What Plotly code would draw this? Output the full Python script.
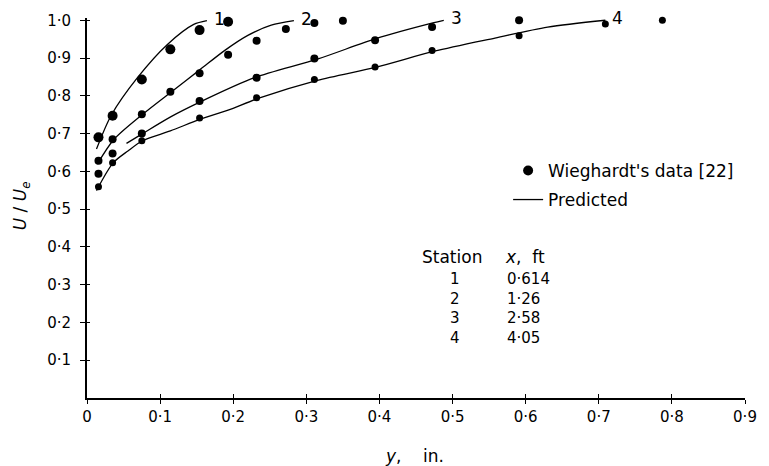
import plotly.graph_objects as go

# Wieghardt's measured profiles: distance from wall y (in.) and U/Ue, per station
s1_y = [0.0157, 0.035, 0.075, 0.114, 0.154, 0.193]
s1_u = [0.690, 0.747, 0.843, 0.923, 0.974, 0.996]

s2_y = [0.0157, 0.035, 0.075, 0.114, 0.154, 0.193, 0.232, 0.272, 0.311, 0.350]
s2_u = [0.628, 0.685, 0.751, 0.811, 0.860, 0.909, 0.946, 0.977, 0.993, 0.999]

s3_y = [0.0157, 0.035, 0.075, 0.154, 0.232, 0.311, 0.394, 0.472, 0.591]
s3_u = [0.594, 0.647, 0.700, 0.786, 0.848, 0.899, 0.947, 0.982, 1.000]

s4_y = [0.0157, 0.035, 0.075, 0.154, 0.232, 0.311, 0.394, 0.472, 0.591, 0.709, 0.787]
s4_u = [0.559, 0.623, 0.681, 0.741, 0.795, 0.843, 0.876, 0.920, 0.959, 0.990, 1.000]

# Predicted profiles
p1_y = [0.013, 0.033, 0.069, 0.110, 0.146, 0.164]
p1_u = [0.659, 0.748, 0.848, 0.936, 0.989, 0.999]

p2_y = [0.014, 0.037, 0.076, 0.117, 0.155, 0.189, 0.220, 0.252, 0.283]
p2_u = [0.619, 0.685, 0.751, 0.813, 0.870, 0.921, 0.960, 0.987, 0.999]

p3_y = [0.054, 0.076, 0.115, 0.155, 0.229, 0.315, 0.396, 0.473, 0.488]
p3_u = [0.674, 0.700, 0.745, 0.784, 0.848, 0.897, 0.952, 0.993, 1.000]

p4_y = [0.013, 0.036, 0.056, 0.076, 0.114, 0.155, 0.193, 0.234, 0.315, 0.396, 0.475, 0.558, 0.630, 0.709]
p4_u = [0.549, 0.623, 0.654, 0.681, 0.707, 0.738, 0.762, 0.793, 0.841, 0.876, 0.918, 0.953, 0.982, 1.000]

station_ids = ["1", "2", "3", "4"]
station_x_ft = ["0·614", "1·26", "2·58", "4·05"]

x_ticks = [0, 0.1, 0.2, 0.3, 0.4, 0.5, 0.6, 0.7, 0.8, 0.9]
x_tick_text = ["0", "0·1", "0·2", "0·3", "0·4", "0·5", "0·6", "0·7", "0·8", "0·9"]
y_ticks = [0.1, 0.2, 0.3, 0.4, 0.5, 0.6, 0.7, 0.8, 0.9, 1.0]
y_tick_text = ["0·1", "0·2", "0·3", "0·4", "0·5", "0·6", "0·7", "0·8", "0·9", "1·0"]

FONT = "DejaVu Sans"
INK = "black"
Y_TOP = 1.006

measured = [(s1_y, s1_u, 10), (s2_y, s2_u, 8), (s3_y, s3_u, 8), (s4_y, s4_u, 7)]
predicted = [(p1_y, p1_u), (p2_y, p2_u), (p3_y, p3_u), (p4_y, p4_u)]

fig = go.Figure()

for i, (ys, us, sz) in enumerate(measured):
    fig.add_trace(go.Scatter(
        x=ys, y=us, mode="markers",
        marker=dict(color=INK, size=sz),
        name="Wieghardt's data [22]",
        legendgroup="data", showlegend=(i == 0),
        cliponaxis=False,
    ))

for i, (ys, us) in enumerate(predicted):
    fig.add_trace(go.Scatter(
        x=ys, y=us, mode="lines",
        line=dict(color=INK, width=1.3, shape="spline", smoothing=0.8),
        name="Predicted",
        legendgroup="pred", showlegend=(i == 0),
        cliponaxis=False,
    ))
    # station number at the end of each predicted curve
    fig.add_annotation(
        x=ys[-1], y=us[-1], text=station_ids[i], showarrow=False,
        xanchor="left", yanchor="middle", xshift=5, yshift=2,
        font=dict(family=FONT, size=17, color=INK),
    )

# invisible trace that carries the overlay axes used for the inner tick marks
fig.add_trace(go.Scatter(x=[0], y=[0], xaxis="x2", yaxis="y2", mode="markers",
                         marker=dict(opacity=0), showlegend=False, hoverinfo="skip"))

axis_common = dict(showgrid=False, zeroline=False, showline=True,
                   linecolor=INK, linewidth=2, ticks="outside",
                   tickcolor=INK, tickwidth=1.2,
                   tickfont=dict(family=FONT, size=15, color=INK))

fig.update_layout(
    width=769, height=466,
    margin=dict(l=87, r=16, t=17, b=68),
    paper_bgcolor="white", plot_bgcolor="white",
    font=dict(family=FONT, color=INK),
    xaxis=dict(range=[0, 0.9], tickvals=x_ticks, ticktext=x_tick_text,
               ticklen=4, **axis_common),
    yaxis=dict(range=[0, Y_TOP], tickvals=y_ticks, ticktext=y_tick_text,
               ticklen=5, ticklabelstandoff=6, **axis_common),
    xaxis2=dict(overlaying="x", range=[0, 0.9], tickvals=x_ticks, ticks="inside",
                ticklen=4, tickwidth=1.2, tickcolor=INK, showticklabels=False,
                showgrid=False, zeroline=False, showline=False, side="bottom"),
    yaxis2=dict(overlaying="y", range=[0, Y_TOP], tickvals=y_ticks, ticks="inside",
                ticklen=3, tickwidth=1.2, tickcolor=INK, showticklabels=False,
                showgrid=False, zeroline=False, showline=False, side="left"),
    legend=dict(x=0.64, y=0.645, xanchor="left", yanchor="top",
                font=dict(family=FONT, size=17, color=INK),
                bgcolor="rgba(0,0,0,0)", tracegroupgap=4,
                traceorder="grouped"),
)

TXT = dict(family=FONT, size=17, color=INK)
TABLE = dict(family=FONT, size=15, color=INK)

def px_to_paper(px, py):
    # plot area spans x 87..753 and y 17..398 in page pixels
    return (px - 87) / 666, (398 - py) / 381

# axis titles
tx, ty = px_to_paper(418, 456)
fig.add_annotation(xref="paper", yref="paper", x=tx, y=ty, xanchor="center", yanchor="middle",
                   text="<i>y</i>,    in.", showarrow=False, font=TXT)
tx, ty = px_to_paper(21, 205)
fig.add_annotation(xref="paper", yref="paper", x=tx, y=ty, xanchor="center", yanchor="middle",
                   text="<i>U</i> / <i>U<sub>e</sub></i>", textangle=-90,
                   showarrow=False, font=TXT)

# station table: header row, then one text block per column
tx, ty = px_to_paper(456, 257)
fig.add_annotation(xref="paper", yref="paper", x=tx, y=ty, xanchor="center", yanchor="middle",
                   text="Station", showarrow=False, font=TXT)
tx, ty = px_to_paper(508, 257)
fig.add_annotation(xref="paper", yref="paper", x=tx, y=ty, xanchor="left", yanchor="middle",
                   text="<i>x</i>,  ft", showarrow=False, font=TXT)
tx, ty = px_to_paper(459, 308.5)
fig.add_annotation(xref="paper", yref="paper", x=tx, y=ty, xanchor="center", yanchor="middle",
                   text="<br>".join(station_ids), showarrow=False, align="center",
                   font=TABLE)
tx, ty = px_to_paper(510, 308.5)
fig.add_annotation(xref="paper", yref="paper", x=tx, y=ty, xanchor="left", yanchor="middle",
                   text="<br>".join(station_x_ft), showarrow=False, align="left",
                   font=TABLE)

fig.write_html("out.html")
